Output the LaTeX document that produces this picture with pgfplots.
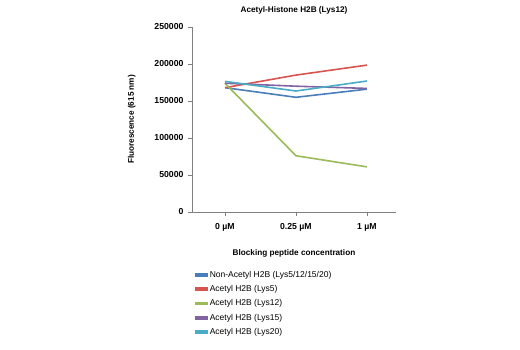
\documentclass[border=0pt]{standalone}
\usepackage{pgfplots}
\pgfplotsset{compat=1.18}
\usepackage{fontspec}
\setmainfont{Liberation Sans}
\definecolor{cblue}{HTML}{4A7EBB}
\definecolor{cred}{HTML}{D9534F}
\definecolor{cgreen}{HTML}{9BBB59}
\definecolor{cpurple}{HTML}{8064A2}
\definecolor{ccyan}{HTML}{4BACC6}
\definecolor{axgray}{HTML}{7F7F7F}
\begin{document}
\begin{tikzpicture}[x=1pt,y=1pt]
\useasboundingbox (0,0) rectangle (520,350);
\begin{axis}[
  at={(192pt,138pt)}, anchor=south west,
  scale only axis, width=204pt, height=185pt,
  xmin=-0.465, xmax=2.41,
  ymin=0, ymax=250000,
  xtick={0,1,2}, xticklabels={0 µM,0.25 µM,1 µM},
  ytick={0,50000,100000,150000,200000,250000},
  scaled y ticks=false,
  /pgf/number format/assume math mode=true,
  yticklabel={\pgfmathprintnumber[fixed,precision=0,1000 sep={}]{\tick}},
  axis x line*=bottom, axis y line*=left,
  axis line style={axgray, line width=0.6pt, -},
  tick style={axgray, line width=0.6pt},
  tick align=outside, major tick length=4pt,
  ticklabel style={font=\bfseries\fontsize{8.7}{10}\selectfont, text=black},
  xticklabel style={yshift=-4pt},
  yticklabel style={xshift=-1pt},
  title={Acetyl-Histone H2B (Lys12)},
  title style={font=\bfseries\fontsize{8.2}{9.5}\selectfont, at={(axis description cs:0.5,1)}, anchor=center, yshift=11pt},
  xlabel={Blocking peptide concentration},
  xlabel style={font=\bfseries\fontsize{8.2}{9.5}\selectfont, at={(axis description cs:0.5,0)}, anchor=center, yshift=-41pt},
  ylabel={Fluorescence (615 nm)},
  ylabel style={font=\bfseries\fontsize{8.2}{9.5}\selectfont, at={(axis description cs:-0.295,0.5)}, anchor=center},
  clip=false,
  legend style={draw=none, fill=none, at={(axis description cs:0,0)}, anchor=north west, xshift=3pt, yshift=-57pt,
    font=\fontsize{8.5}{10}\selectfont, inner sep=0pt, row sep=2.6pt, cells={anchor=west}},
  legend cell align=left,
  legend image code/.code={\fill[#1] (0pt,-1pt) rectangle (11pt,1pt);},
  every axis plot/.append style={line width=1.6pt},
]
\addplot[cblue, no markers] coordinates {(0,168000) (1,155000) (2,166000)};
\addlegendentry{Non-Acetyl H2B (Lys5/12/15/20)}
\addplot[cred, no markers] coordinates {(0,168000) (1,185000) (2,198500)};
\addlegendentry{Acetyl H2B (Lys5)}
\addplot[cgreen, no markers] coordinates {(0,174000) (1,76000) (2,61000)};
\addlegendentry{Acetyl H2B (Lys12)}
\addplot[cpurple, no markers] coordinates {(0,174000) (1,170000) (2,167000)};
\addlegendentry{Acetyl H2B (Lys15)}
\addplot[ccyan, no markers] coordinates {(0,176500) (1,163500) (2,177000)};
\addlegendentry{Acetyl H2B (Lys20)}
\end{axis}
\end{tikzpicture}
\end{document}
